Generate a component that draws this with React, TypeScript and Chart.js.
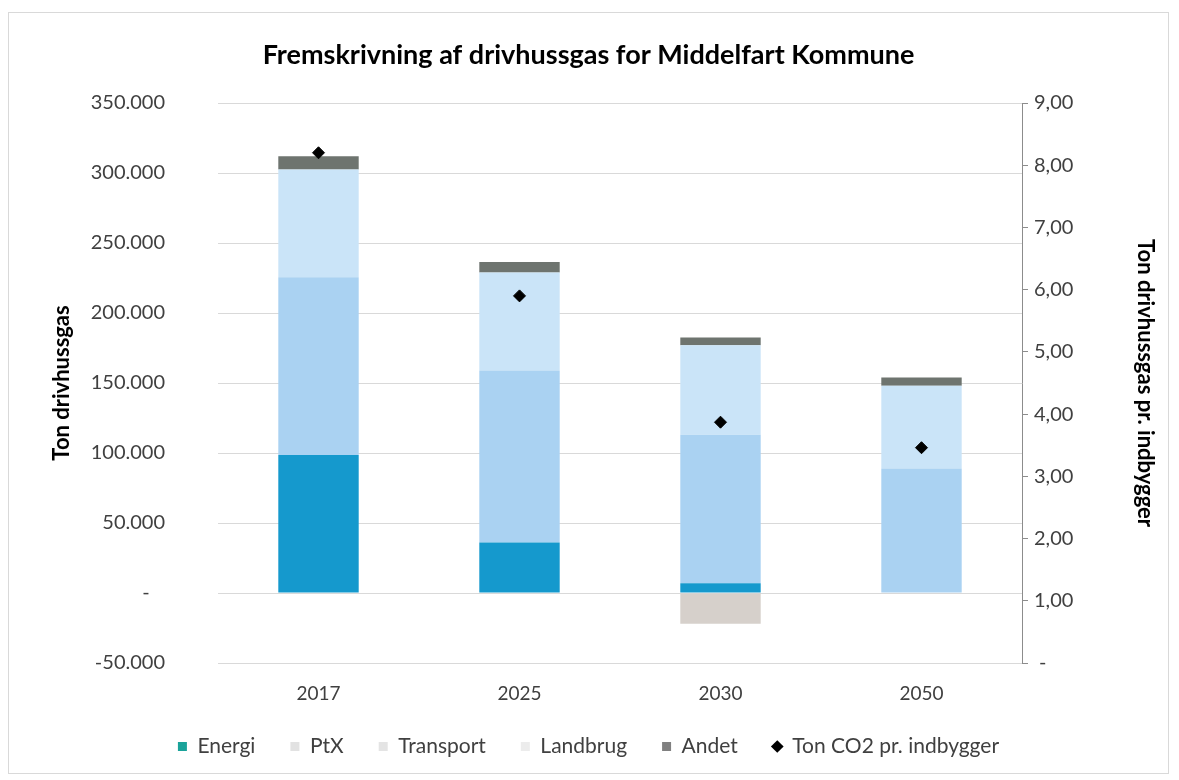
import React, { useEffect, useRef } from "react";
import { Chart, registerables } from "chart.js";

Chart.register(...registerables);

const categories = ["2017", "2025", "2030", "2050"];
const energi = [98500, 36000, 7000, 0];
const ptx = [0, 0, -22000, 0];
const transport = [127000, 123000, 106000, 89000];
const landbrug = [77000, 70000, 64000, 59000];
const andet = [9500, 7500, 5500, 6000];
const co2PerCapita = [8.2, 5.9, 3.87, 3.46];

const seriesNames = ["Energi", "PtX", "Transport", "Landbrug", "Andet", "Ton CO2 pr. indbygger"];
const barColors = ["#1599cd", "#d6d0cb", "#aad2f2", "#cae4f8", "#6e746f"];
const legendColors = ["#1aa39a", "#e2e2e2", "#e4e4e4", "#ececec", "#808080", "#000000"];

const chartTitle = "Fremskrivning af drivhussgas for Middelfart Kommune";
const leftAxisTitle = "Ton drivhussgas";
const rightAxisTitle = "Ton drivhussgas pr. indbygger";

const FONT = "Lato, 'Open Sans', sans-serif";
const TEXT = "#404040";

export default function App() {
  const ref = useRef<HTMLCanvasElement | null>(null);

  useEffect(() => {
    if (!ref.current) return;
    Chart.defaults.font.family = FONT;
    const barSeries = [energi, ptx, transport, landbrug, andet];
    const datasets: any[] = barSeries.map((data, i) => ({
      type: "bar",
      label: seriesNames[i],
      data,
      backgroundColor: barColors[i],
      borderWidth: 0,
      yAxisID: "y",
      stack: "s",
      order: 2,
      barPercentage: 0.4,
      categoryPercentage: 1.0,
    }));
    datasets.push({
      type: "line",
      label: seriesNames[5],
      data: co2PerCapita,
      yAxisID: "y1",
      showLine: false,
      pointStyle: "rectRot",
      pointRadius: 6,
      pointBackgroundColor: "#000",
      pointBorderColor: "#000",
      borderColor: "#000",
      backgroundColor: "#000",
      order: 0,
    });

    const chart = new Chart(ref.current, {
      type: "bar",
      data: { labels: categories, datasets },
      options: {
        animation: false,
        responsive: false,
        devicePixelRatio: 1,
        layout: { padding: { left: 0, right: 0, top: 0, bottom: 6 } },
        plugins: {
          title: {
            display: true,
            text: chartTitle,
            color: "#000",
            font: { size: 27, weight: "bold", family: FONT, lineHeight: 1.2 },
            padding: { top: 26, bottom: 31.6 },
          },
          legend: {
            position: "bottom",
            labels: {
              usePointStyle: true,
              boxWidth: 9,
              boxHeight: 9,
              padding: 35,
              color: TEXT,
              font: { size: 21, family: FONT },
              generateLabels: () =>
                seriesNames.map((name, i) => ({
                  text: name,
                  fillStyle: legendColors[i],
                  strokeStyle: legendColors[i],
                  lineWidth: 0,
                  pointStyle: i === 5 ? "rectRot" : "rect",
                  datasetIndex: i,
                  hidden: false,
                  fontColor: TEXT,
                })),
            },
          },
          tooltip: { enabled: false },
        },
        scales: {
          x: {
            stacked: true,
            grid: { display: false, drawTicks: false },
            border: { display: false },
            ticks: { color: TEXT, font: { size: 19, family: FONT }, padding: 19 },
            afterFit: (s: any) => {
              s.height = 38;
            },
          },
          y: {
            stacked: true,
            position: "left",
            min: -50000,
            max: 350000,
            grid: { color: "#d9d9d9", drawTicks: false, lineWidth: 1 },
            border: { display: false },
            ticks: {
              stepSize: 50000,
              padding: 53,
              color: TEXT,
              font: { size: 20, family: FONT },
              callback: (v: any) => (Number(v) === 0 ? "-   " : Number(v).toLocaleString("da-DK")),
            },
            title: {
              display: true,
              text: leftAxisTitle,
              color: "#000",
              font: { size: 22, weight: "bold", family: FONT, lineHeight: 1.2 },
              padding: { top: 40, bottom: 0 },
            },
            afterFit: (s: any) => {
              s.width = 209;
            },
          },
          y1: {
            position: "right",
            min: 0,
            max: 9,
            grid: { drawOnChartArea: false, drawTicks: true, tickLength: 6, color: "#8c8c8c" },
            border: { display: true, color: "#8c8c8c" },
            ticks: {
              stepSize: 1,
              padding: 6,
              color: TEXT,
              font: { size: 20, family: FONT },
              callback: (v: any) => (Number(v) === 0 ? " -" : Number(v).toFixed(2).replace(".", ",")),
            },
            title: {
              display: true,
              text: rightAxisTitle,
              color: "#000",
              font: { size: 22, weight: "bold", family: FONT, lineHeight: 1.2 },
              padding: { top: 10, bottom: 0 },
            },
            afterFit: (s: any) => {
              s.width = 146;
            },
          },
        },
      } as any,
    });
    return () => chart.destroy();
  }, []);

  return (
    <div
      style={{
        width: 1161,
        height: 762,
        border: "1px solid #d9d9d9",
        boxSizing: "border-box",
        marginTop: 4,
        background: "#fff",
      }}
    >
      <canvas ref={ref} width={1159} height={760} style={{ display: "block" }} />
    </div>
  );
}
